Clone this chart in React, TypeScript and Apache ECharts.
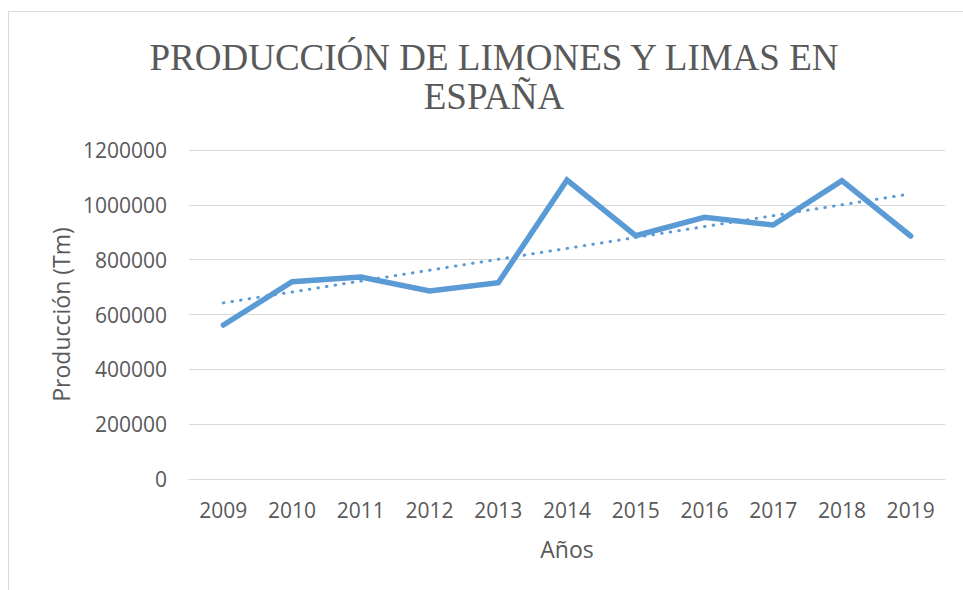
import React, { useEffect, useRef } from "react";
import * as echarts from "echarts";

const years = ["2009", "2010", "2011", "2012", "2013", "2014", "2015", "2016", "2017", "2018", "2019"];
const production = [561700, 719700, 736800, 685700, 716000, 1090600, 887400, 954500, 926400, 1088000, 886300];
const titleLines = ["PRODUCCIÓN DE LIMONES Y LIMAS EN", "ESPAÑA"];
const yAxisName = "Producción (Tm)";
const xAxisName = "Años";

function linearTrend(values: number[]): number[] {
  const n = values.length;
  const mx = (n - 1) / 2;
  const my = values.reduce((a, b) => a + b, 0) / n;
  let num = 0;
  let den = 0;
  values.forEach((v, i) => {
    num += (i - mx) * (v - my);
    den += (i - mx) * (i - mx);
  });
  const slope = num / den;
  return values.map((_, i) => my + slope * (i - mx));
}

export default function App() {
  const ref = useRef<HTMLDivElement>(null);
  useEffect(() => {
    if (!ref.current) return;
    const chart = echarts.init(ref.current, null, { renderer: "svg" });
    const trend = linearTrend(production);
    const labelFont = "'Open Sans', sans-serif";
    chart.setOption({
      animation: false,
      backgroundColor: "#ffffff",
      title: {
        text: titleLines.join("\n"),
        left: 489,
        top: 33,
        textAlign: "center",
        textStyle: {
          fontFamily: "'Liberation Serif', 'Times New Roman', serif",
          fontSize: 37,
          fontWeight: "normal",
          color: "#595959",
          lineHeight: 39,
        },
      },
      graphic: [
        {
          type: "rect",
          shape: { x: 8.5, y: 11.5, width: 1000, height: 700 },
          style: { fill: "none", stroke: "#d9d9d9", lineWidth: 1 },
          silent: true,
        },
      ],
      grid: { left: 189, right: 18, top: 150, bottom: 111 },
      xAxis: {
        type: "category",
        data: years,
        boundaryGap: true,
        name: xAxisName,
        nameLocation: "middle",
        nameGap: 58,
        nameTextStyle: { fontFamily: labelFont, fontSize: 23, color: "#595959" },
        axisLine: { show: true, lineStyle: { color: "#d9d9d9", width: 1 } },
        axisTick: { show: false },
        axisLabel: { fontFamily: labelFont, fontSize: 21, color: "#595959", margin: 20 },
      },
      yAxis: {
        type: "value",
        min: 0,
        max: 1200000,
        interval: 200000,
        name: yAxisName,
        nameLocation: "middle",
        nameGap: 108,
        nameTextStyle: { fontFamily: labelFont, fontSize: 23, color: "#595959" },
        axisLine: { show: false },
        axisTick: { show: false },
        splitLine: { lineStyle: { color: "#d9d9d9", width: 1 } },
        axisLabel: {
          fontFamily: labelFont,
          fontSize: 21,
          color: "#595959",
          margin: 22,
          formatter: (v: number) => String(v),
        },
      },
      series: [
        {
          type: "line",
          name: "Producción",
          data: production,
          symbol: "none",
          lineStyle: { color: "#5b9bd5", width: 5.5, cap: "round", join: "miter" },
          z: 3,
        },
        {
          type: "line",
          name: "Tendencia",
          data: trend,
          symbol: "none",
          lineStyle: { color: "#5b9bd5", width: 3, type: [0.5, 8.2], cap: "round" },
          z: 2,
        },
      ],
    });
    return () => chart.dispose();
  }, []);
  return (
    <div
      ref={ref}
      style={{ position: "fixed", left: 0, top: 0, width: 963, height: 590 }}
    />
  );
}
